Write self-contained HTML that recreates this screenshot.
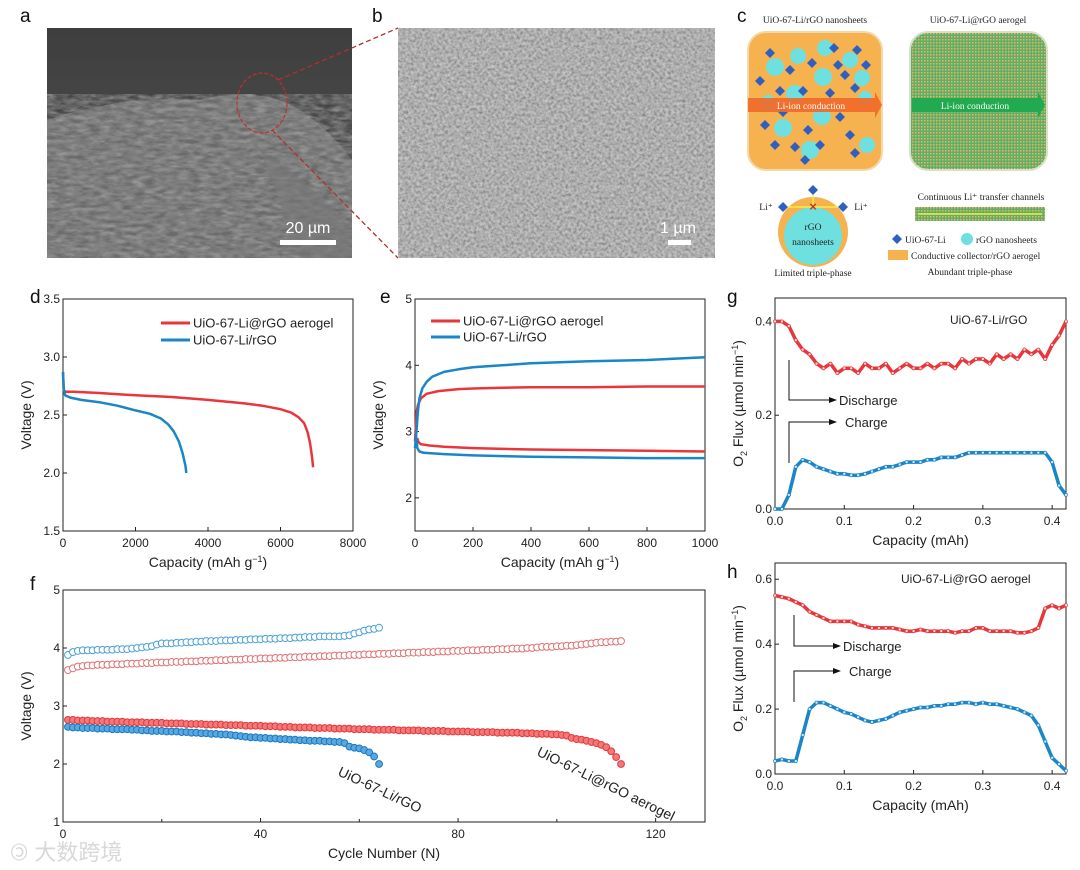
<!DOCTYPE html>
<html><head><meta charset="utf-8"><style>
html,body{margin:0;padding:0;background:#fff}
svg{display:block;font-family:"Liberation Sans","Noto Sans CJK SC",sans-serif}
.tk{font-size:12px;fill:#222}
.at{font-size:14px;fill:#222}
.lt{font-size:19px;fill:#111}
.sr{font-family:"Liberation Serif",serif;font-size:9.5px;fill:#222}
</style></head><body>
<svg id="fig" width="1080" height="870" viewBox="0 0 1080 870">
<defs>
<filter id="semA" x="0" y="0" width="100%" height="100%"><feTurbulence type="fractalNoise" baseFrequency="0.09 0.25" numOctaves="3" seed="4"/><feColorMatrix type="matrix" values="0 0 0 0 0.45  0 0 0 0 0.45  0 0 0 0 0.45  0.9 0.9 0.9 0 -0.9"/></filter>
<filter id="semB" x="0" y="0" width="100%" height="100%"><feTurbulence type="fractalNoise" baseFrequency="0.35" numOctaves="2" seed="7"/><feColorMatrix type="matrix" values="1.2 0 0 0 0  1.2 0 0 0 0  1.2 0 0 0 0  0 0 0 0 1"/><feColorMatrix type="saturate" values="0"/></filter>
<pattern id="grid" width="3" height="3" patternUnits="userSpaceOnUse"><rect width="3" height="3" fill="#5fae6a"/><rect width="1.5" height="1.5" fill="#e8b85c"/></pattern>
<linearGradient id="skyA" x1="0" y1="0" x2="0" y2="1"><stop offset="0" stop-color="#3e3e3e"/><stop offset="1" stop-color="#555"/></linearGradient>
</defs>

<g>
<rect x="47" y="28" width="305" height="230" fill="url(#skyA)"/>
<path d="M47 120 Q120 95 200 100 Q260 85 300 110 Q330 130 352 160 L352 258 L47 258 Z" fill="#6a6a6a"/>
<path d="M47 120 Q120 95 200 100 Q260 85 300 110 Q330 130 352 160 L352 258 L47 258 Z" fill="#fff" filter="url(#semA)" opacity="0.6"/>
<path d="M260 150 Q310 180 352 230 L352 258 L300 258 Z" fill="#777" opacity="0.6"/>
<ellipse cx="262" cy="103" rx="25" ry="30" fill="none" stroke="#c0302a" stroke-width="1.2" stroke-dasharray="4,2"/>
<rect x="280" y="240" width="56" height="5" fill="#fff"/>
<text x="308" y="233" text-anchor="middle" fill="#fff" font-size="16">20 µm</text>
</g>
<line x1="278" y1="80" x2="398" y2="28" stroke="#b0302a" stroke-width="1.3" stroke-dasharray="5,3"/>
<line x1="272" y1="130" x2="398" y2="258" stroke="#b0302a" stroke-width="1.3" stroke-dasharray="5,3"/>
<g>
<rect x="398" y="28" width="317" height="230" fill="#8a8a8a"/>
<rect x="398" y="28" width="317" height="230" filter="url(#semB)" opacity="0.55"/>
<rect x="668" y="240" width="23" height="5" fill="#fff"/>
<text x="678" y="233" text-anchor="middle" fill="#fff" font-size="16">1 µm</text>
</g>

<g>
<text x="815" y="23" text-anchor="middle" class="sr">UiO-67-Li/rGO nanosheets</text>
<text x="978" y="23" text-anchor="middle" class="sr">UiO-67-Li@rGO aerogel</text>
<rect x="748" y="32" width="134" height="138" rx="18" fill="#f6b24e" stroke="#f3d9a9" stroke-width="2"/>
<g fill="#6fe0e0">
<circle cx="775" cy="67" r="9"/><circle cx="798" cy="56" r="8"/><circle cx="823" cy="77" r="9"/><circle cx="850" cy="60" r="8"/><circle cx="862" cy="78" r="8"/><circle cx="795" cy="94" r="9"/><circle cx="825" cy="48" r="8"/><circle cx="768" cy="103" r="8"/><circle cx="822" cy="116" r="9"/><circle cx="783" cy="128" r="9"/><circle cx="810" cy="150" r="9"/><circle cx="867" cy="145" r="8"/><circle cx="865" cy="98" r="7"/>
</g>
<g fill="#2f5fbf">
<path d="M770 48l5 5-5 5-5-5z"/><path d="M790 65l5 5-5 5-5-5z"/><path d="M812 58l5 5-5 5-5-5z"/><path d="M834 43l5 5-5 5-5-5z"/><path d="M838 60l5 5-5 5-5-5z"/><path d="M857 45l5 5-5 5-5-5z"/><path d="M866 60l5 5-5 5-5-5z"/><path d="M760 76l5 5-5 5-5-5z"/><path d="M845 70l5 5-5 5-5-5z"/><path d="M780 86l5 5-5 5-5-5z"/><path d="M803 86l5 5-5 5-5-5z"/><path d="M830 88l5 5-5 5-5-5z"/><path d="M855 83l5 5-5 5-5-5z"/><path d="M783 107l5 5-5 5-5-5z"/><path d="M765 120l5 5-5 5-5-5z"/><path d="M808 125l5 5-5 5-5-5z"/><path d="M840 112l5 5-5 5-5-5z"/><path d="M850 130l5 5-5 5-5-5z"/><path d="M775 140l5 5-5 5-5-5z"/><path d="M795 142l5 5-5 5-5-5z"/><path d="M820 140l5 5-5 5-5-5z"/><path d="M855 148l5 5-5 5-5-5z"/><path d="M805 155l5 5-5 5-5-5z"/>
</g>
<path d="M748 98 H875 V92 L882 105 L875 118 V112 H748 Z" fill="#f06a2a" opacity="0.92"/>
<text x="811" y="109" text-anchor="middle" class="sr" style="fill:#fff">Li-ion conduction</text>
<rect x="910" y="32" width="137" height="138" rx="18" fill="url(#grid)" stroke="#d8e0c8" stroke-width="2"/>
<path d="M912 98 H1038 V92 L1045 105 L1038 118 V112 H912 Z" fill="#22aa50"/>
<text x="975" y="109" text-anchor="middle" class="sr" style="fill:#fff">Li-ion conduction</text>
<circle cx="813" cy="232" r="35" fill="#f6b24e"/>
<circle cx="813" cy="236" r="29" fill="#6fe0e0"/>
<path d="M813 185l5 5-5 5-5-5z" fill="#2f5fbf"/><path d="M783 202l5 5-5 5-5-5z" fill="#2f5fbf"/><path d="M843 202l5 5-5 5-5-5z" fill="#2f5fbf"/>
<line x1="788" y1="207" x2="838" y2="207" stroke="#f4ee40" stroke-width="1.5"/>
<line x1="813" y1="195" x2="813" y2="207" stroke="#f4ee40" stroke-width="1.5"/>
<text x="813" y="211" text-anchor="middle" fill="#d03020" font-size="13" font-weight="bold">×</text>
<text x="766" y="210" text-anchor="middle" class="sr">Li⁺</text>
<text x="861" y="210" text-anchor="middle" class="sr">Li⁺</text>
<text x="813" y="230" text-anchor="middle" class="sr">rGO</text>
<text x="813" y="245" text-anchor="middle" class="sr">nanosheets</text>
<text x="813" y="276" text-anchor="middle" class="sr">Limited triple-phase</text>
<text x="981" y="200" text-anchor="middle" class="sr">Continuous Li⁺ transfer channels</text>
<rect x="915" y="207" width="130" height="14" fill="url(#grid)"/>
<line x1="918" y1="214" x2="1042" y2="214" stroke="#f4ee40" stroke-width="1.5"/>
<path d="M897 234l5 5-5 5-5-5z" fill="#2f5fbf"/>
<text x="905" y="243" class="sr">UiO-67-Li</text>
<circle cx="967" cy="239" r="6" fill="#6fe0e0"/>
<text x="976" y="243" class="sr">rGO nanosheets</text>
<rect x="888" y="250" width="20" height="10" fill="#f6b24e"/>
<text x="911" y="259" class="sr">Conductive collector/rGO aerogel</text>
<text x="970" y="275" text-anchor="middle" class="sr">Abundant triple-phase</text>
</g>

<text x="20" y="22" class="lt">a</text>
<text x="372" y="22" class="lt">b</text>
<text x="737" y="22" class="lt">c</text>
<text x="30" y="303" class="lt">d</text>
<text x="380" y="303" class="lt">e</text>
<text x="727" y="303" class="lt">g</text>
<text x="30" y="590" class="lt">f</text>
<text x="727" y="578" class="lt">h</text>
<text x="10" y="860" font-size="22" fill="#d8d8d8">🄯 大数跨境</text>
<g id="charts"></g>
</svg>
<script>
const dRedCap=[0,20,60,300,1000,2000,3000,4000,5000,5500,6000,6300,6500,6650,6750,6820,6870,6900];
const dRedV=[2.87,2.72,2.70,2.70,2.69,2.67,2.655,2.63,2.60,2.58,2.55,2.52,2.48,2.43,2.35,2.25,2.14,2.05];
const dBlueCap=[0,20,60,200,500,1000,1500,2000,2400,2700,2900,3050,3200,3300,3380,3400];
const dBlueV=[2.87,2.72,2.67,2.65,2.63,2.61,2.58,2.54,2.51,2.47,2.42,2.36,2.27,2.17,2.06,2.0];
const dXTicks=[0,2000,4000,6000,8000];
const dYTicks=[1.5,2.0,2.5,3.0,3.5];
const eRedChgCap=[0,3,6,10,20,40,80,150,200,300,400,600,800,1000];
const eRedChgV=[2.85,3.1,3.3,3.4,3.5,3.57,3.61,3.64,3.65,3.66,3.67,3.67,3.68,3.68];
const eRedDisCap=[8,12,20,50,100,200,400,600,800,1000];
const eRedDisV=[2.9,2.84,2.81,2.79,2.77,2.75,2.73,2.72,2.71,2.70];
const eBlueChgCap=[0,5,10,15,25,40,60,100,150,200,300,400,600,800,1000];
const eBlueChgV=[2.75,3.0,3.3,3.5,3.65,3.75,3.83,3.90,3.94,3.97,4.0,4.03,4.06,4.08,4.12];
const eBlueDisCap=[3,8,15,30,100,200,400,600,800,1000];
const eBlueDisV=[2.95,2.75,2.70,2.68,2.66,2.64,2.62,2.61,2.60,2.60];
const eXTicks=[0,200,400,600,800,1000];
const eYTicks=[2,3,4,5];
const fRedCharge=[3.62,3.65,3.68,3.69,3.70,3.70,3.71,3.71,3.71,3.72,3.72,3.72,3.73,3.73,3.73,3.74,3.74,3.74,3.75,3.75,3.75,3.76,3.76,3.76,3.77,3.77,3.77,3.78,3.78,3.78,3.79,3.79,3.79,3.80,3.80,3.80,3.81,3.81,3.81,3.82,3.82,3.82,3.83,3.83,3.83,3.84,3.84,3.84,3.85,3.85,3.85,3.86,3.86,3.86,3.87,3.87,3.87,3.88,3.88,3.88,3.89,3.89,3.89,3.90,3.90,3.90,3.91,3.91,3.91,3.92,3.92,3.92,3.93,3.93,3.93,3.94,3.94,3.94,3.95,3.95,3.95,3.96,3.96,3.96,3.97,3.97,3.97,3.98,3.98,3.98,3.99,3.99,3.99,4.00,4.00,4.01,4.02,4.02,4.02,4.03,4.03,4.04,4.04,4.05,4.06,4.07,4.08,4.09,4.10,4.10,4.11,4.11,4.12];
const fRedDischarge=[2.76,2.76,2.75,2.75,2.75,2.74,2.74,2.74,2.73,2.73,2.73,2.73,2.72,2.72,2.72,2.72,2.71,2.71,2.71,2.71,2.70,2.70,2.70,2.70,2.69,2.69,2.69,2.69,2.68,2.68,2.68,2.68,2.67,2.67,2.67,2.67,2.66,2.66,2.66,2.66,2.65,2.65,2.65,2.64,2.64,2.64,2.63,2.63,2.63,2.63,2.62,2.62,2.62,2.62,2.61,2.61,2.61,2.61,2.60,2.60,2.60,2.60,2.59,2.59,2.59,2.59,2.59,2.58,2.58,2.58,2.58,2.58,2.57,2.57,2.57,2.57,2.57,2.56,2.56,2.56,2.56,2.56,2.55,2.55,2.55,2.55,2.55,2.54,2.54,2.54,2.54,2.54,2.53,2.53,2.53,2.52,2.52,2.52,2.51,2.51,2.50,2.49,2.45,2.43,2.42,2.40,2.38,2.36,2.33,2.29,2.22,2.12,2.00];
const fBlueCharge=[3.88,3.93,3.95,3.96,3.96,3.96,3.97,3.97,3.97,3.97,3.98,3.98,3.98,3.99,4.00,4.01,4.02,4.03,4.06,4.08,4.08,4.08,4.09,4.09,4.10,4.10,4.11,4.11,4.12,4.12,4.12,4.13,4.13,4.13,4.14,4.14,4.14,4.15,4.15,4.15,4.16,4.16,4.16,4.17,4.17,4.17,4.18,4.18,4.19,4.19,4.19,4.20,4.20,4.20,4.20,4.20,4.21,4.22,4.25,4.27,4.30,4.32,4.33,4.35];
const fBlueDischarge=[2.64,2.63,2.63,2.62,2.62,2.62,2.61,2.61,2.61,2.60,2.60,2.60,2.60,2.59,2.59,2.58,2.58,2.57,2.57,2.57,2.56,2.56,2.56,2.55,2.55,2.54,2.54,2.53,2.53,2.52,2.52,2.51,2.51,2.50,2.49,2.48,2.47,2.46,2.46,2.45,2.45,2.44,2.44,2.43,2.43,2.42,2.42,2.41,2.41,2.40,2.40,2.40,2.39,2.39,2.38,2.38,2.36,2.30,2.28,2.27,2.24,2.20,2.13,2.00];
const fXTicks=[0,40,80,120];
const fYTicks=[1,2,3,4,5];
const capStep=0.01;
const gRed=[.40,.40,.39,.36,.34,.33,.31,.30,.31,.29,.30,.30,.29,.31,.30,.30,.31,.29,.30,.31,.30,.30,.31,.30,.31,.31,.30,.32,.31,.32,.32,.31,.33,.32,.33,.32,.34,.33,.34,.32,.35,.37,.40];
const gBlue=[.00,.00,.03,.09,.105,.10,.09,.085,.08,.075,.075,.072,.072,.075,.08,.085,.09,.09,.095,.10,.10,.10,.105,.105,.11,.11,.11,.115,.12,.12,.12,.12,.12,.12,.12,.12,.12,.12,.12,.12,.10,.05,.03];
const hRed=[.55,.545,.54,.53,.52,.50,.49,.48,.47,.47,.47,.47,.46,.455,.45,.45,.45,.45,.445,.44,.44,.445,.44,.44,.44,.44,.435,.44,.44,.45,.45,.44,.44,.44,.44,.435,.435,.44,.45,.51,.52,.51,.52];
const hBlue=[.04,.045,.04,.04,.12,.20,.22,.22,.21,.20,.19,.185,.175,.165,.16,.165,.17,.18,.19,.195,.20,.205,.205,.21,.21,.215,.215,.22,.22,.215,.22,.215,.215,.21,.205,.20,.19,.18,.15,.10,.05,.03,.01];
const ghXTicks=[0.0,0.1,0.2,0.3,0.4];
const gYTicks=[0.0,0.2,0.4];
const hYTicks=[0.0,0.2,0.4,0.6];

const NS='http://www.w3.org/2000/svg';
const root=document.getElementById('charts');
function mk(tag,attrs,parent){const e=document.createElementNS(NS,tag);for(const k in attrs)e.setAttribute(k,attrs[k]);(parent||root).appendChild(e);return e;}
const RED='#e8363a', BLUE='#1a86c8';

function axes(p){
  const g=mk('g',{});
  
  
  const sx=v=>p.x0+(v-p.xmin)/(p.xmax-p.xmin)*(p.x1-p.x0);
  const sy=v=>p.y0-(v-p.ymin)/(p.ymax-p.ymin)*(p.y0-p.y1);
  mk('rect',{x:p.x0,y:p.y1,width:p.x1-p.x0,height:p.y0-p.y1,fill:'none',stroke:'#222','stroke-width':1},g);
  p.xt.forEach(v=>{const x=sx(v);mk('line',{x1:x,y1:p.y0,x2:x,y2:p.y0-4,stroke:'#222'},g);
    const t=mk('text',{x:x,y:p.y0+16,'text-anchor':'middle',class:'tk'},g);t.textContent=p.xf(v);});
  p.yt.forEach(v=>{const y=sy(v);mk('line',{x1:p.x0,y1:y,x2:p.x0+4,y2:y,stroke:'#222'},g);
    const t=mk('text',{x:p.x0-3,y:y+4,'text-anchor':'end',class:'tk'},g);t.textContent=p.yf(v);});
  const xt=mk('text',{x:(p.x0+p.x1)/2,y:p.y0+36,'text-anchor':'middle',class:'at'},g);xt.innerHTML=p.xl;
  const yt=mk('text',{x:0,y:0,'text-anchor':'middle',class:'at',transform:`translate(${p.x0-32},${(p.y0+p.y1)/2}) rotate(-90)`},g);yt.innerHTML=p.yl;
  return {g,sx,sy};
}
function line(ax,xs,ys,color,name,w){
  const d=xs.map((x,i)=>(i?'L':'M')+ax.sx(x).toFixed(1)+' '+ax.sy(ys[i]).toFixed(1)).join(' ');
  const e=mk('path',{d:d,fill:'none',stroke:color,'stroke-width':w||2.5,'stroke-linejoin':'round'},ax.g);
  
  
}
const capLbl='Capacity (mAh g<tspan dy="-5" font-size="9">−1</tspan><tspan dy="5">)</tspan>';

const d=axes({name:'chart-d',x0:63,x1:353,y0:531,y1:299,xmin:0,xmax:8000,ymin:1.5,ymax:3.5,xt:dXTicks,yt:dYTicks,xf:v=>v,yf:v=>v.toFixed(1),xl:capLbl,yl:'Voltage (V)'});
line(d,dRedCap,dRedV,RED,'d-aerogel-curve');
line(d,dBlueCap,dBlueV,BLUE,'d-rgo-curve');
const e=axes({name:'chart-e',x0:415,x1:705,y0:531,y1:299,xmin:0,xmax:1000,ymin:1.5,ymax:5,xt:eXTicks,yt:eYTicks,xf:v=>v,yf:v=>v,xl:capLbl,yl:'Voltage (V)'});
line(e,eRedChgCap,eRedChgV,RED,'e-aerogel-charge');
line(e,eRedDisCap,eRedDisV,RED,'e-aerogel-discharge');
line(e,eBlueChgCap,eBlueChgV,BLUE,'e-rgo-charge');
line(e,eBlueDisCap,eBlueDisV,BLUE,'e-rgo-discharge');
function legend(ax,x,y,label,color,name){
  const lg=mk('g',{},ax.g);
  
  
  mk('line',{x1:x,y1:y,x2:x+29,y2:y,stroke:color,'stroke-width':3},lg);
  const t=mk('text',{x:x+32,y:y+4.5,class:'tk',style:'font-size:13px'},lg);t.textContent=label;
}
legend(d,161,323,'UiO-67-Li@rGO aerogel',RED,'legend-d-aerogel');
legend(d,161,340,'UiO-67-Li/rGO',BLUE,'legend-d-rgo');
legend(e,431,321,'UiO-67-Li@rGO aerogel',RED,'legend-e-aerogel');
legend(e,431,337,'UiO-67-Li/rGO',BLUE,'legend-e-rgo');

const f=axes({name:'chart-f',x0:63,x1:705,y0:822,y1:590,xmin:0,xmax:130,ymin:1,ymax:5,xt:fXTicks,yt:fYTicks,xf:v=>v,yf:v=>v,xl:'Cycle Number (N)',yl:'Voltage (V)'});
[20,60,100].forEach(v=>mk('line',{x1:f.sx(v),y1:822,x2:f.sx(v),y2:819,stroke:'#222'},f.g));
function scatter(ax,vals,stroke,fill,name){
  const sg=mk('g',{},ax.g);
  
  
  vals.forEach((v,i)=>{const c=mk('circle',{cx:ax.sx(i+1),cy:ax.sy(v),r:3.4,fill:fill,stroke:stroke,'stroke-width':1},sg);
    
    });
}
scatter(f,fRedCharge,'#e07070','#fff','f-aerogel-charge');
scatter(f,fBlueCharge,'#4aa0d8','#fff','f-rgo-charge');
scatter(f,fRedDischarge,'#e8363a','#f07a7a','f-aerogel-discharge');
scatter(f,fBlueDischarge,'#1a78c0','#5aa8e0','f-rgo-discharge');
const fl1=mk('text',{x:337,y:775,class:'at',transform:'rotate(25 337 775)'},f.g);fl1.textContent='UiO-67-Li/rGO';


const fl2=mk('text',{x:536,y:755,class:'at',transform:'rotate(26 536 755)'},f.g);fl2.textContent='UiO-67-Li@rGO aerogel';



const fluxLbl='O<tspan dy="4" font-size="9">2</tspan><tspan dy="-4"> Flux (µmol min</tspan><tspan dy="-5" font-size="9">−1</tspan><tspan dy="5">)</tspan>';
function flux(ax,vals,color,name){
  const xs=vals.map((v,i)=>i*capStep);
  line(ax,xs,vals,color,name,3.5);
  vals.forEach((v,i)=>{const c=mk('circle',{cx:ax.sx(i*capStep),cy:ax.sy(v),r:1.6,fill:'#fff',stroke:color,'stroke-width':0.8,opacity:0.8},ax.g);
    
    });
}
function arrows(ax,xv,d1,d2,c1,c2,tx){
  mk('path',{d:`M${xv} ${d1} V${d2} H${tx-6}`,fill:'none',stroke:'#111','stroke-width':1},ax.g);
  mk('path',{d:`M${tx-6} ${d2-3} L${tx+2} ${d2} L${tx-6} ${d2+3}Z`,fill:'#111'},ax.g);
  const t1=mk('text',{x:tx+4,y:d2+5,class:'tk',style:'font-size:13px'},ax.g);t1.textContent='Discharge';
  mk('path',{d:`M${xv} ${c1} V${c2} H${tx-6}`,fill:'none',stroke:'#111','stroke-width':1},ax.g);
  mk('path',{d:`M${tx-6} ${c2-3} L${tx+2} ${c2} L${tx-6} ${c2+3}Z`,fill:'#111'},ax.g);
  const t2=mk('text',{x:tx+10,y:c2+5,class:'tk',style:'font-size:13px'},ax.g);t2.textContent='Charge';
}
const g=axes({name:'chart-g',x0:775,x1:1066,y0:509,y1:298,xmin:0,xmax:0.42,ymin:0,ymax:0.45,xt:ghXTicks,yt:gYTicks,xf:v=>v.toFixed(1),yf:v=>v.toFixed(1),xl:'Capacity (mAh)',yl:fluxLbl});
flux(g,gRed,RED,'g-discharge-flux');
flux(g,gBlue,BLUE,'g-charge-flux');
const gt=mk('text',{x:950,y:324,class:'tk'},g.g);gt.textContent='UiO-67-Li/rGO';
arrows(g,789,360,400,463,422,835);
const h=axes({name:'chart-h',x0:775,x1:1066,y0:774,y1:563,xmin:0,xmax:0.42,ymin:0,ymax:0.65,xt:ghXTicks,yt:hYTicks,xf:v=>v.toFixed(1),yf:v=>v.toFixed(1),xl:'Capacity (mAh)',yl:fluxLbl});
flux(h,hRed,RED,'h-discharge-flux');
flux(h,hBlue,BLUE,'h-charge-flux');
const ht=mk('text',{x:901,y:583,class:'tk'},h.g);ht.textContent='UiO-67-Li@rGO aerogel';
arrows(h,794,615,646,702,671,839);
</script>
</body></html>
